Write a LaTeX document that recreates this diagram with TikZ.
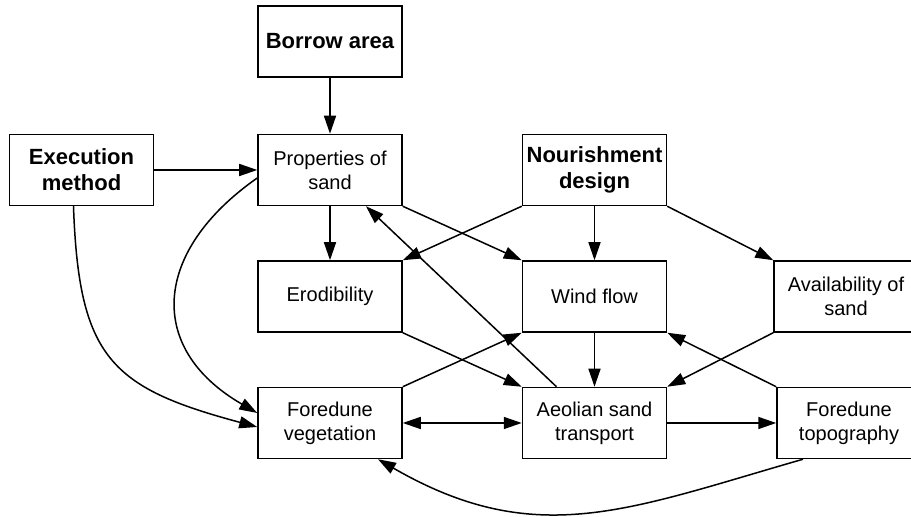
\documentclass[tikz,border=0pt]{standalone}
\usepackage{fontspec}
\setmainfont{Liberation Sans}
\usetikzlibrary{arrows.meta, positioning}
\tikzset{
  every picture/.style={line width=0.75pt},
  box/.style={draw, align=center, inner sep=2pt, minimum width=72pt, minimum height=35.5pt, font=\fontsize{10}{12}\selectfont},
  bigbox/.style={box, font=\fontsize{11}{13}\selectfont\bfseries},
  arrow/.style={-{Triangle[length=9pt, width=6pt]}},
  both/.style={{Triangle[length=9pt, width=6pt]}-{Triangle[length=9pt, width=6pt]}},
}

\begin{document}
\begin{tikzpicture}
  \useasboundingbox (-165pt,-173.5pt) rectangle (290.5pt,85pt);
  \node[box] (prop) at (0,0) {Properties of\\sand};
  \node[bigbox, above=28pt of prop] (borrow) {Borrow area};
  \node[bigbox, left=51.5pt of prop] (exec) {Execution\\method};
  \node[bigbox, right=59.5pt of prop] (nour) {Nourishment\\design};
  \node[box, below=27pt of prop] (erod) {Erodibility};
  \node[box, below=27pt of nour] (wind) {Wind flow};
  \node[box, right=53pt of wind] (avail) {Availability of\\sand};
  \node[box, below=27pt of erod] (veg) {Foredune\\vegetation};
  \node[box, below=27pt of wind] (aeol) {Aeolian sand\\transport};
  \node[box, below=27pt of avail, xshift=1.5pt] (topo) {Foredune\\topography};
  % straight links
  \draw[arrow] (borrow) -- (prop);
  \draw[arrow] (exec) -- (prop);
  \draw[arrow] (prop) -- (erod);
  \draw[arrow] (prop.south east) -- (wind.north west);
  \draw[arrow] ([xshift=-19pt]aeol.north) -- ([xshift=18pt]prop.south);
  \draw[arrow] (nour.south west) -- (erod.north east);
  \draw[arrow] (nour) -- (wind);
  \draw[arrow] (nour.south east) -- (avail.north west);
  \draw[arrow] (erod.south east) -- (aeol.north west);
  \draw[arrow] (veg.north east) -- (wind.south west);
  \draw[arrow] (wind) -- (aeol);
  \draw[arrow] (avail.south west) -- (aeol.north east);
  \draw[arrow] (topo.north west) -- (wind.south east);
  \draw[both] (veg) -- (aeol);
  \draw[arrow] (aeol) -- (topo);
  % curved links
  \draw[arrow] ([yshift=-4pt]prop.west) to[out=215, in=150, looseness=1.4] ([yshift=5pt]veg.west);
  \draw[arrow] ([xshift=-4pt]exec.south) to[out=-88, in=165, looseness=1.35] ([yshift=-2pt]veg.west);
  \draw[arrow] ([xshift=-23pt]topo.south) to[out=196, in=-30, looseness=1.1] ([xshift=24pt]veg.south);
\end{tikzpicture}
\end{document}
